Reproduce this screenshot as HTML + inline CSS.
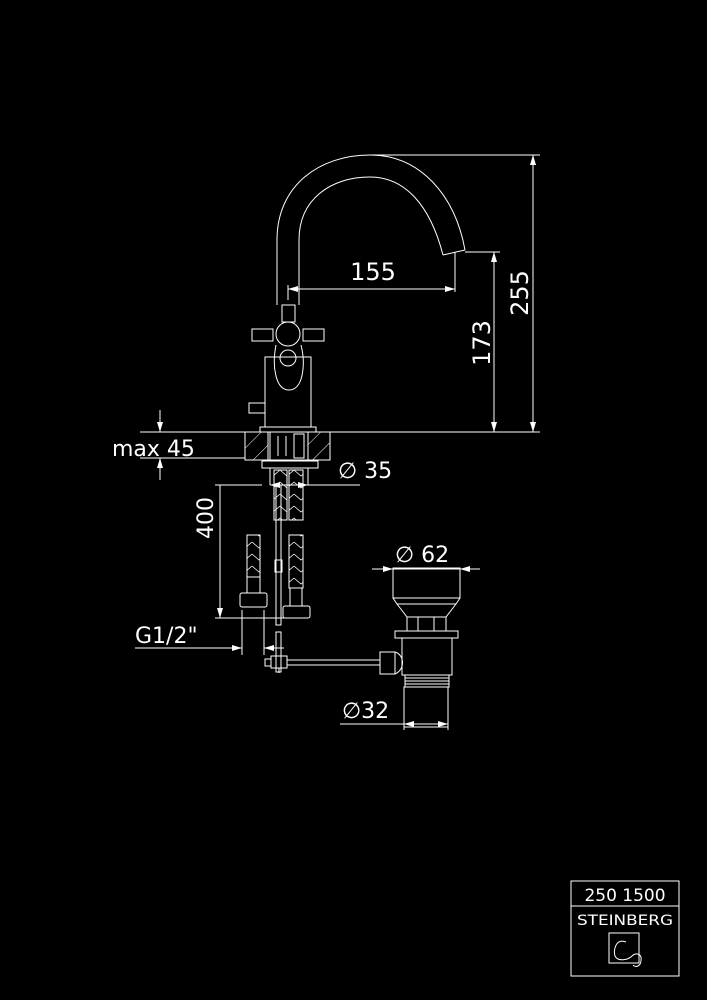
<!DOCTYPE html>
<html><head><meta charset="utf-8"><style>
html,body{margin:0;padding:0;background:#000;}
svg{display:block}
text{font-family:"DejaVu Sans","Liberation Sans",sans-serif;fill:#fff;font-weight:normal}
</style></head><body>
<svg width="707" height="1000" viewBox="0 0 707 1000" xmlns="http://www.w3.org/2000/svg">
<defs>
<marker id="a" viewBox="0 0 10 6" refX="10" refY="3" markerWidth="10" markerHeight="6" orient="auto-start-reverse" markerUnits="userSpaceOnUse"><path d="M0,0L10,3L0,6z" fill="#fff"/></marker>
<pattern id="h" width="14" height="14" patternUnits="userSpaceOnUse" patternTransform="rotate(45)"><line x1="0" y1="0" x2="0" y2="14" stroke="#fff" stroke-width="1"/></pattern>
<pattern id="b" width="14" height="12" patternUnits="userSpaceOnUse"><path d="M0,2L7,8L14,2" stroke="#fff" stroke-width="0.8" fill="none"/></pattern>
</defs>
<rect width="707" height="1000" fill="#000"/>
<g fill="none" stroke="#fff" stroke-width="1">
<path d="M277,305 L277,240 C277,185 320,155 370,155 C420,155 455,195 465,250"/>
<path d="M299,305 L299,240 C299,200 330,177 370,177 C405,177 430,205 443,255"/>
<path d="M443,255 L465,250"/>
<rect x="282" y="305" width="13" height="17"/>
<rect x="252" y="329" width="21" height="12"/>
<rect x="303" y="329" width="21" height="12"/>
<circle cx="288" cy="334" r="12"/>
<rect x="265" y="357" width="46" height="70"/>
<path d="M276,345 C272,365 275,390 289,390 C303,390 306,365 301,345"/>
<circle cx="288" cy="358" r="8"/>
<rect x="249" y="403" width="16" height="10"/>
<rect x="260" y="427" width="56" height="5"/>
<rect x="245" y="432" width="85" height="28" fill="url(#h)"/>
<rect x="268" y="432" width="40" height="28" fill="#000"/>
<line x1="270" y1="432" x2="270" y2="460"/><line x1="308" y1="432" x2="308" y2="460"/>
<line x1="278" y1="436" x2="278" y2="456"/><line x1="286" y1="436" x2="286" y2="456"/>
<rect x="294" y="434" width="10" height="24"/>
<rect x="262" y="461" width="56" height="7"/>
<line x1="270" y1="468" x2="270" y2="485"/><line x1="308" y1="468" x2="308" y2="485"/>
<rect x="274" y="470" width="13" height="50" fill="url(#b)"/>
<rect x="289" y="470" width="14" height="50" fill="url(#b)"/>
<rect x="276" y="485" width="5" height="140"/>
<rect x="275" y="560" width="7" height="12"/>
<rect x="276" y="632" width="5" height="40"/>
<rect x="247" y="535" width="13" height="42" fill="url(#b)"/>
<rect x="247" y="577" width="13" height="16"/>
<rect x="240" y="593" width="27" height="14" rx="2"/>
<rect x="289" y="535" width="14" height="53" fill="url(#b)"/>
<rect x="290" y="588" width="12" height="18"/>
<rect x="283" y="606" width="27" height="12" rx="2"/>
<rect x="265" y="659" width="6" height="7"/>
<rect x="271" y="656" width="16" height="12"/>
<line x1="279" y1="668" x2="279" y2="673"/>
<line x1="287" y1="660" x2="380" y2="660"/><line x1="287" y1="665" x2="380" y2="665"/>
<rect x="380" y="652" width="15" height="22"/>
<path d="M395,652 C405,655 405,670 395,674"/>
<rect x="393" y="568" width="67" height="30"/>
<path d="M393,598 L397,604 L456,604 L460,598 M397,604 L407,617 L446,617 L456,604"/>
<rect x="407" y="617" width="39" height="14"/><rect x="418" y="617" width="16" height="14"/>
<rect x="395" y="631" width="63" height="7"/>
<rect x="402" y="638" width="50" height="37"/>
<rect x="405" y="675" width="44" height="12"/>
<line x1="405" y1="678" x2="449" y2="678"/><line x1="405" y1="681" x2="449" y2="681"/><line x1="405" y1="684" x2="449" y2="684"/>
<rect x="404" y="687" width="44" height="40"/>
<line x1="370" y1="155" x2="540" y2="155"/>
<line x1="533" y1="155" x2="533" y2="432" marker-start="url(#a)" marker-end="url(#a)"/>
<line x1="465" y1="252" x2="500" y2="252"/>
<line x1="494" y1="252" x2="494" y2="432" marker-start="url(#a)" marker-end="url(#a)"/>
<line x1="316" y1="432" x2="540" y2="432"/>
<line x1="288" y1="285" x2="288" y2="300"/>
<line x1="455" y1="252" x2="455" y2="292"/>
<line x1="288" y1="289" x2="455" y2="289" marker-start="url(#a)" marker-end="url(#a)"/>
<line x1="140" y1="432" x2="245" y2="432"/>
<line x1="140" y1="458" x2="245" y2="458"/>
<line x1="160" y1="410" x2="160" y2="432" marker-end="url(#a)"/>
<line x1="160" y1="480" x2="160" y2="458" marker-end="url(#a)"/>
<line x1="270" y1="485" x2="360" y2="485" marker-start="url(#a)"/>
<line x1="270" y1="485" x2="308" y2="485" marker-end="url(#a)"/>
<line x1="215" y1="485" x2="262" y2="485"/>
<line x1="220" y1="485" x2="220" y2="618" marker-end="url(#a)"/>
<line x1="215" y1="618" x2="284" y2="618"/>
<line x1="242" y1="610" x2="242" y2="655"/><line x1="264" y1="610" x2="264" y2="655"/>
<line x1="135" y1="648" x2="242" y2="648" marker-end="url(#a)"/>
<line x1="264" y1="648" x2="284" y2="648" marker-start="url(#a)"/>
<line x1="372" y1="569" x2="393" y2="569" marker-end="url(#a)"/>
<line x1="480" y1="569" x2="460" y2="569" marker-end="url(#a)"/>
<line x1="393" y1="569" x2="460" y2="569"/>
<line x1="404" y1="727" x2="404" y2="730"/><line x1="448" y1="727" x2="448" y2="730"/>
<line x1="340" y1="724" x2="448" y2="724"/>
<line x1="404" y1="724" x2="448" y2="724" marker-start="url(#a)" marker-end="url(#a)"/>
<rect x="571" y="881" width="108" height="95"/>
<line x1="571" y1="906" x2="679" y2="906"/>
<rect x="609" y="933" width="30" height="30"/>
<path d="M626,942 C616,938 613,950 615,956 C618,962 628,960 632,956 C636,952 642,954 641,960 C641,966 636,968 633,965"/>
</g>
<text x="373" y="280" font-size="24" text-anchor="middle">155</text>
<text transform="translate(490,343) rotate(-90)" font-size="24" text-anchor="middle">173</text>
<text transform="translate(528,293) rotate(-90)" font-size="24" text-anchor="middle">255</text>
<text x="112" y="456" font-size="22">max 45</text>
<text x="338" y="478" font-size="22">∅ 35</text>
<text transform="translate(213,518) rotate(-90)" font-size="22" text-anchor="middle">400</text>
<text x="135" y="643" font-size="22">G1/2"</text>
<text x="395" y="562" font-size="22">∅ 62</text>
<text x="342" y="718" font-size="22">∅32</text>
<text x="625" y="901" font-size="17" text-anchor="middle">250 1500</text>
<text x="625" y="925" font-size="14.5" text-anchor="middle" textLength="96" lengthAdjust="spacingAndGlyphs">STEINBERG</text>
</svg>
</body></html>
